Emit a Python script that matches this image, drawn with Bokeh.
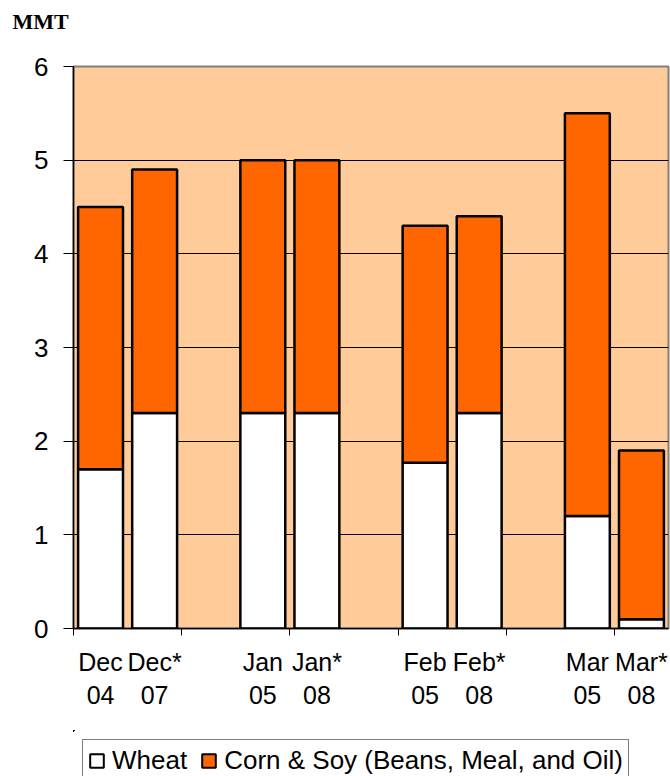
from bokeh.plotting import figure
from bokeh.layouts import column
from bokeh.models import Range1d, FixedTicker, Legend, LegendItem, ColumnDataSource, Title
from bokeh.embed import file_html
from bokeh.resources import INLINE

# ---- data ----
months = ["Dec", "Dec*", "Jan", "Jan*", "Feb", "Feb*", "Mar", "Mar*"]
years = ["04", "07", "05", "08", "05", "08", "05", "08"]
wheat = [1.7, 2.3, 2.3, 2.3, 1.77, 2.3, 1.2, 0.1]
corn_soy = [2.8, 2.6, 2.7, 2.7, 2.53, 2.1, 4.3, 1.8]
y_ticks = [0, 1, 2, 3, 4, 5, 6]
unit = "MMT"
series_names = ["Wheat", "Corn & Soy (Beans, Meal, and Oil)"]
series_colors = ["white", "#FF6600"]

# category slots: pairs of bars separated by an empty slot
n_slots = len(months) + len(months) // 2 - 1
centers = [i + i // 2 + 0.5 for i in range(len(months))]
totals = [w + c for w, c in zip(wheat, corn_soy)]

src = ColumnDataSource(dict(x=centers, wheat=wheat, total=totals,
                            zero=[0] * len(wheat)))
stack_cols = [("zero", "wheat"), ("wheat", "total")]

FONT = "Liberation Sans"
SIDE = dict(frame_width=595, min_border_left=73, min_border_right=2,
            output_backend="svg", toolbar_location=None, title=None)

# ---- header strip with the unit label ----
head = figure(frame_height=9, x_axis_type=None, y_axis_type=None,
              min_border_top=0, min_border_bottom=0, **SIDE)
head.outline_line_color = None
head.add_layout(Title(text=unit, align="left", offset=-61, standoff=12,
                      vertical_align="bottom", text_font="Liberation Serif",
                      text_font_style="bold", text_font_size="22px",
                      text_color="black"), "above")

# ---- main chart ----
p = figure(frame_height=562, x_range=Range1d(0, n_slots), y_range=Range1d(0, 6),
           min_border_top=18, min_border_bottom=102, **SIDE)

p.background_fill_color = "#FFCC99"
p.border_fill_color = "white"
p.outline_line_color = "#808080"
p.outline_line_width = 2

for (b, t), color in zip(stack_cols, series_colors):
    p.vbar(x="x", width=0.83, bottom=b, top=t, source=src,
           fill_color=color, line_color="black", line_width=2.5)

# grid
p.xgrid.visible = False
p.ygrid.ticker = FixedTicker(ticks=y_ticks)
p.ygrid.grid_line_color = "black"
p.ygrid.grid_line_width = 1

# y axis
ya = p.yaxis[0]
ya.ticker = FixedTicker(ticks=y_ticks)
ya.major_tick_out = 10
ya.major_tick_in = 0
ya.minor_tick_line_color = None
ya.major_tick_line_color = "black"
ya.axis_line_color = "black"
ya.axis_line_width = 1.5
ya.major_label_standoff = 15
ya.major_label_text_font = FONT
ya.major_label_text_font_size = "26px"
ya.major_label_text_color = "black"

# x axis
xa = p.xaxis[0]
xa.ticker = FixedTicker(ticks=centers, minor_ticks=list(range(0, n_slots, 2)))
xa.major_label_overrides = {c: f"{m}\n{y}" for c, m, y in zip(centers, months, years)}
xa.major_tick_line_color = None
xa.minor_tick_line_color = "black"
xa.minor_tick_out = 7
xa.minor_tick_in = 0
xa.axis_line_color = "black"
xa.axis_line_width = 1.5
xa.major_label_standoff = 12
xa.major_label_text_font = FONT
xa.major_label_text_font_size = "25px"
xa.major_label_text_color = "black"
xa.major_label_text_align = "center"

# ---- footer strip with the legend (legend swatches from the same series,
#      drawn far outside this strip's visible range) ----
foot = figure(frame_height=46, x_axis_type=None, y_axis_type=None,
              x_range=Range1d(1000, 1001), y_range=Range1d(-2, -1),
              min_border_top=0, min_border_bottom=0, **SIDE)
foot.outline_line_color = None
items = []
for name, color, (b, t) in zip(series_names, series_colors, stack_cols):
    r = foot.vbar(x="x", width=0.83, bottom=b, top=t, source=src,
                  fill_color=color, line_color="black", line_width=2)
    items.append(LegendItem(label=name, renderers=[r]))
legend = Legend(items=items, orientation="horizontal", location="top_left",
                border_line_color="black", border_line_width=1,
                background_fill_color="white", background_fill_alpha=1,
                label_text_font=FONT, label_text_font_size="26px",
                label_text_color="black",
                glyph_width=17, glyph_height=17, label_standoff=7,
                label_height=24, spacing=13, padding=5, margin=9)
foot.add_layout(legend)

layout = column(head, p, foot, spacing=0)
open("out.html", "w").write(file_html(layout, INLINE))
